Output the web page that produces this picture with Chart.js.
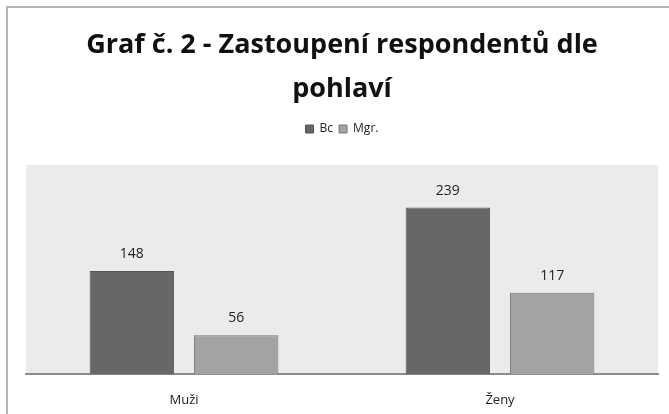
<!DOCTYPE html>
<html><head><meta charset="utf-8">
<script src="https://cdn.jsdelivr.net/npm/chart.js@4/dist/chart.umd.min.js"></script>
<style>
html,body{margin:0;padding:0;background:#fff;}
#wrap{position:relative;width:669px;height:414px;overflow:hidden;}
#frame{position:absolute;left:6px;top:6px;width:700px;height:450px;border:2px solid #b4b4b4;box-sizing:border-box;}
canvas{position:absolute;left:0;top:0;}
</style></head>
<body>
<div id="wrap"><div id="frame"></div><canvas id="c" width="669" height="414"></canvas></div>
<script>
const categories = ["Muži", "Ženy"];
const seriesNames = ["Bc", "Mgr."];
const bcValues = [148, 239];
const mgrValues = [56, 117];
const yMax = 300;

const bgPlugin = {
  id: 'bg',
  beforeLayout(chart) {
    const lg = chart.legend;
    if (lg && !lg._extraPatched) {
      const f = lg.fit;
      lg.fit = function () { f.call(this); this.height += 20; };
      lg._extraPatched = true;
    }
  },
  beforeDraw(chart) {
    const {ctx, chartArea: a} = chart;
    ctx.save();
    ctx.fillStyle = '#ebebeb';
    ctx.fillRect(a.left, a.top, a.right - a.left, a.bottom - a.top);
    ctx.restore();
  }
};
const labelPlugin = {
  id: 'vals',
  afterDatasetsDraw(chart) {
    const ctx = chart.ctx;
    ctx.save();
    ctx.font = '14px "Open Sans", sans-serif';
    ctx.fillStyle = '#222';
    ctx.textAlign = 'center';
    ctx.textBaseline = 'middle';
    chart.data.datasets.forEach((ds, i) => {
      chart.getDatasetMeta(i).data.forEach((bar, j) => {
        ctx.fillText(ds.data[j], bar.x, bar.y - 17);
      });
    });
    ctx.restore();
  }
};

new Chart(document.getElementById('c'), {
  type: 'bar',
  data: {
    labels: categories,
    datasets: [
      {label: seriesNames[0], data: bcValues, backgroundColor: '#666866', borderColor: '#555555', borderWidth: 1},
      {label: seriesNames[1], data: mgrValues, backgroundColor: '#a3a3a3', borderColor: '#767676', borderWidth: 1}
    ]
  },
  options: {
    responsive: false,
    animation: false,
    categoryPercentage: 0.66,
    barPercentage: 0.81,
    layout: {padding: {left: 26, right: 11, top: 23, bottom: -4}},
    plugins: {
      title: {
        display: true,
        text: ['Graf č. 2 - Zastoupení respondentů dle', 'pohlaví'],
        font: {family: '"Open Sans", sans-serif', size: 27, weight: 'bold', lineHeight: 1.63},
        color: '#111',
        padding: {top: 0, bottom: 6}
      },
      legend: {
        display: true,
        labels: {
          boxWidth: 8, boxHeight: 8, padding: 6,
          font: {family: '"Open Sans", sans-serif', size: 12},
          color: '#222'
        }
      },
      tooltip: {enabled: false}
    },
    scales: {
      x: {
        grid: {display: false},
        border: {display: true, color: '#8c8c8c', width: 2},
        ticks: {font: {family: '"Open Sans", sans-serif', size: 13}, color: '#222', padding: 10}
      },
      y: {
        display: false,
        min: 0,
        max: yMax
      }
    }
  },
  plugins: [bgPlugin, labelPlugin]
});
</script>
</body></html>
